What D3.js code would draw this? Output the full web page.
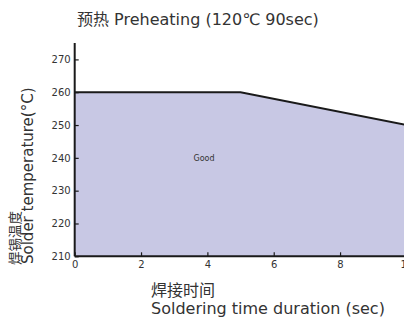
<!DOCTYPE html>
<html>
<head>
<meta charset="utf-8">
<script src="https://cdn.jsdelivr.net/npm/d3@7"></script>
<style>
  html, body { margin: 0; padding: 0; background: #fff; }
  svg { display: block; }
  text { font-family: "DejaVu Sans", "Noto Sans CJK SC", sans-serif; fill: #333; }
</style>
</head>
<body>
<svg id="chart" width="404" height="320"></svg>
<script>
// Soldering heat resistance profile: upper limit of the "Good" zone
const times = [0, 5, 10];
const temps = [260, 260, 250];
const xTicks = [0, 2, 4, 6, 8, 10];
const yTicks = [210, 220, 230, 240, 250, 260, 270];
const zoneLabel = { t: 3.9, temp: 240, text: "Good" };
const title = "预热 Preheating (120℃ 90sec)";
const yTitle = ["焊锡温度", "Solder temperature(°C)"];
const xTitle = ["焊接时间", "Soldering time duration (sec)"];

const svg = d3.select("#chart");
const x = d3.scaleLinear().domain([0, 10]).range([74.7, 406.4]);
const y = d3.scaleLinear().domain([210, 275]).range([256.3, 43]);

const pts = times.map((t, i) => ({ t, v: temps[i] }));

// shaded acceptable region
svg.append("path")
  .datum(pts)
  .attr("fill", "#c8c8e4")
  .attr("d", d3.area().x(d => x(d.t)).y0(y(210)).y1(d => y(d.v)));

// limit line
svg.append("path")
  .datum(pts)
  .attr("fill", "none")
  .attr("stroke", "#1a1a1a")
  .attr("stroke-width", 2)
  .attr("d", d3.line().x(d => x(d.t)).y(d => y(d.v)));

// axes with inward ticks
const xAxis = svg.append("g")
  .attr("transform", `translate(0,${y(210)})`)
  .call(d3.axisBottom(x).tickValues(xTicks).tickSize(-4).tickPadding(5).tickFormat(d3.format("d")));
const yAxis = svg.append("g")
  .attr("transform", `translate(${x(0)},0)`)
  .call(d3.axisLeft(y).tickValues(yTicks).tickSize(-4).tickPadding(4).tickFormat(d3.format("d")));

[xAxis, yAxis].forEach(g => {
  g.select(".domain").attr("stroke", "#1a1a1a").attr("stroke-width", 2);
  g.selectAll(".tick line").attr("stroke", "#1a1a1a").attr("stroke-width", 1.2);
  g.selectAll(".tick text")
    .style("font-family", '"DejaVu Sans", sans-serif')
    .attr("font-size", 10).attr("fill", "#444");
});
xAxis.select(".domain").attr("d", `M${x(0)},0H${x(10)}`);
yAxis.select(".domain").attr("d", `M0,${y(210)}V${y(275)}`);

// zone label
svg.append("text")
  .attr("x", x(zoneLabel.t)).attr("y", y(zoneLabel.temp))
  .attr("text-anchor", "middle").attr("dy", "0.35em")
  .attr("font-size", 8)
  .text(zoneLabel.text);

// title
svg.append("text")
  .attr("x", 77).attr("y", 25)
  .attr("font-size", 16)
  .text(title);

// y title (rotated, two lines)
svg.append("text")
  .attr("transform", "translate(20,265) rotate(-90)")
  .attr("font-size", 13.5)
  .text(yTitle[0]);
svg.append("text")
  .attr("transform", "translate(33,264) rotate(-90)")
  .attr("font-size", 15)
  .text(yTitle[1]);

// x title (two lines)
svg.append("text").attr("x", 151).attr("y", 296).attr("font-size", 16).text(xTitle[0]);
svg.append("text").attr("x", 151).attr("y", 314).attr("font-size", 16).text(xTitle[1]);
</script>
</body>
</html>
